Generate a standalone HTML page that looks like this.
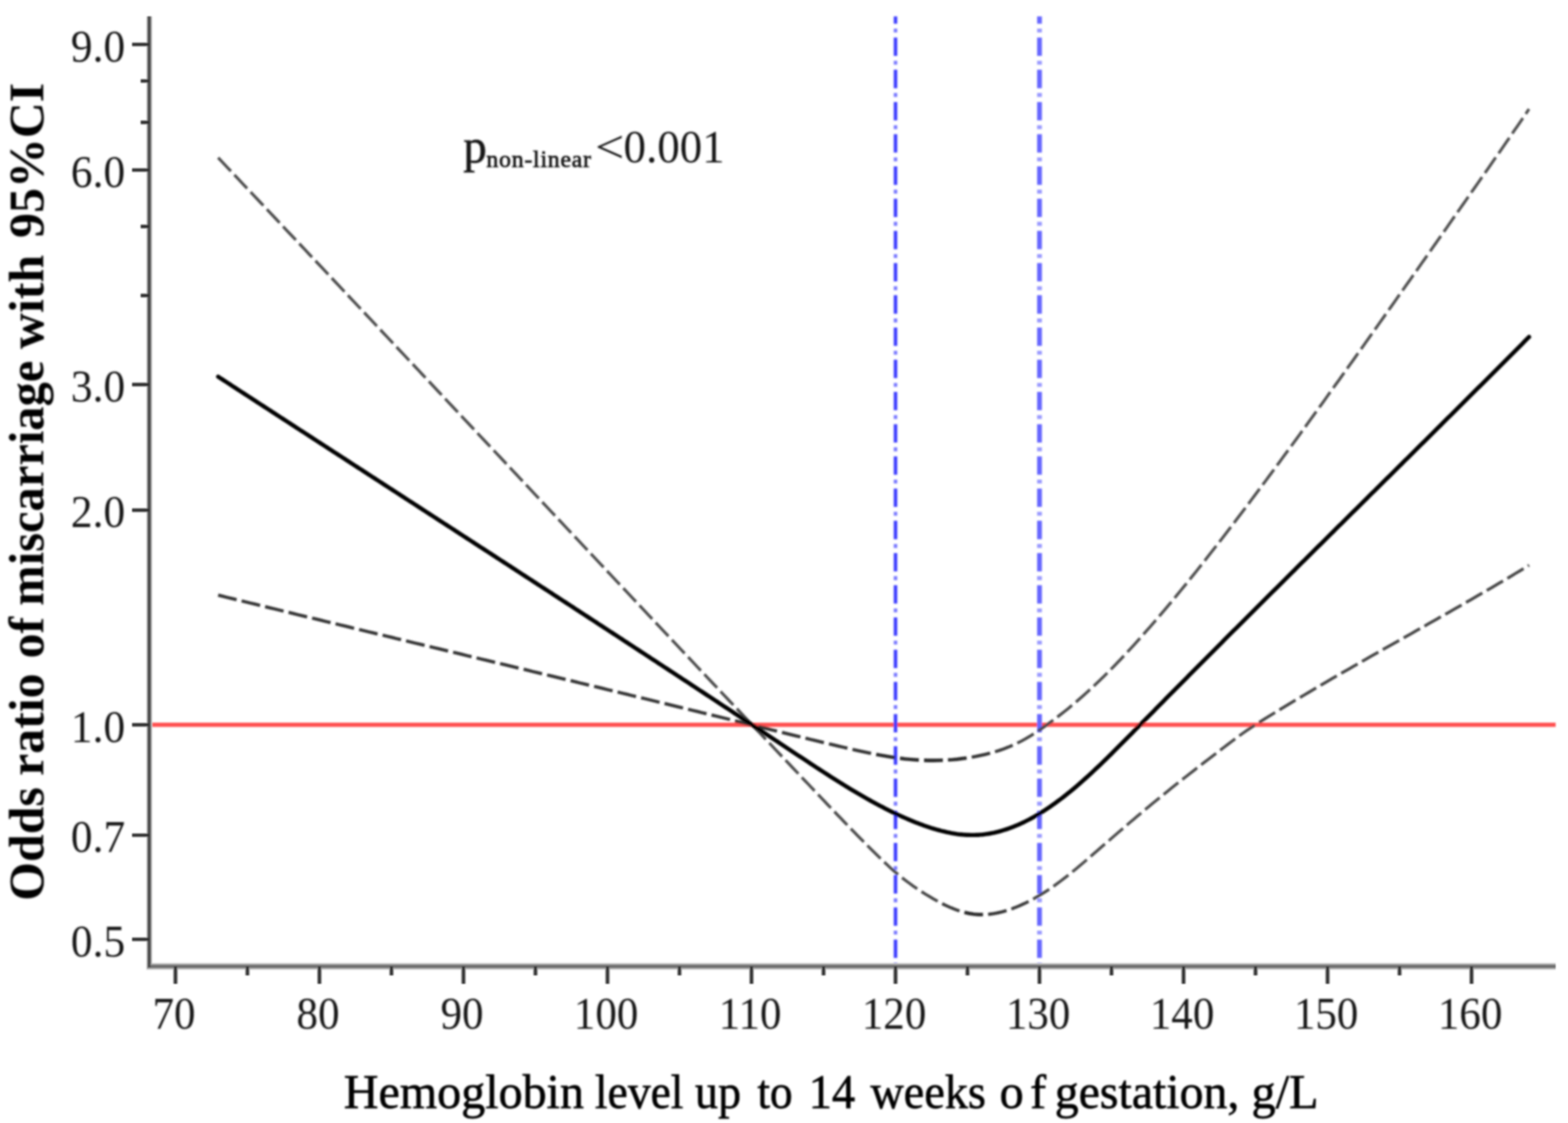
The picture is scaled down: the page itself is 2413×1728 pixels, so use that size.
<!DOCTYPE html>
<html lang="en">
<head>
<meta charset="utf-8">
<title>Odds ratio of miscarriage by hemoglobin level</title>
<style>
html,body{margin:0;padding:0;background:#fff;}
body{width:2413px;height:1728px;overflow:hidden;}
svg{display:block;}
text{font-family:"Liberation Serif", "Times New Roman", Times, serif;fill:#161616;}
.tick{font-size:70px;fill:#202020;}
</style>
</head>
<body>
<svg xmlns="http://www.w3.org/2000/svg" width="2413" height="1728" viewBox="0 0 2413 1728">
<defs>
<filter id="soft" x="-2%" y="-2%" width="104%" height="104%"><feGaussianBlur stdDeviation="1.5"/></filter>
<filter id="soft2" x="-2%" y="-2%" width="104%" height="104%"><feGaussianBlur stdDeviation="0.9"/></filter>
</defs>
<rect x="0" y="0" width="2413" height="1728" fill="#ffffff"/>
<g filter="url(#soft)">
<g fill="none">
<line x1="229.8" y1="1115.2" x2="2394.0" y2="1115.2" stroke="#ff5050" stroke-width="6.4"/>
<line x1="1378.1" y1="25.2" x2="1378.1" y2="1487.0" stroke="#3c3cff" stroke-width="5.4" stroke-dasharray="28.3 21.27" stroke-dashoffset="16.97"/>
<line x1="1378.1" y1="25.2" x2="1378.1" y2="1487.0" stroke="#7a7aff" stroke-width="5.4" stroke-dasharray="6.1 43.47" stroke-dashoffset="30.84"/>
<line x1="1599.7" y1="25.2" x2="1599.7" y2="1487.0" stroke="#6666ff" stroke-width="7.4" stroke-dasharray="28.3 21.27" stroke-dashoffset="16.97"/>
<line x1="1599.7" y1="25.2" x2="1599.7" y2="1487.0" stroke="#9a9aff" stroke-width="7.4" stroke-dasharray="6.1 43.47" stroke-dashoffset="30.84"/>
<g stroke="#2c2c2c">
<path d="M1597.3,1124.9L1603.3,1120.8L1609.2,1116.7L1615.0,1112.4L1620.9,1108.1M1627.1,1103.4L1632.9,1098.9L1638.5,1094.4L1644.2,1089.9L1649.7,1085.3" stroke="#494949" stroke-width="4.5"/>
<path d="M1655.8,1080.2L1661.2,1075.5L1666.7,1070.7L1672.1,1065.9L1677.4,1061.0" stroke="#4b4b4b" stroke-width="4.5"/>
<path d="M1683.2,1055.7L1688.5,1050.7L1693.7,1045.7L1698.9,1040.6L1704.0,1035.5M1709.5,1030.0L1714.6,1024.8L1719.6,1019.6L1724.7,1014.4L1729.6,1009.1" stroke="#4c4c4c" stroke-width="4.5"/>
<path d="M1735.0,1003.3L1739.9,998.0L1744.8,992.7L1749.7,987.3L1754.5,981.9M1759.7,976.1L1764.5,970.6L1769.3,965.2L1774.0,959.7L1778.8,954.3M1783.9,948.3L1788.6,942.8L1793.3,937.3L1797.9,931.7L1802.6,926.2" stroke="#4d4d4d" stroke-width="4.5"/>
<path d="M1807.6,920.1L1812.2,914.5L1816.8,908.9L1821.4,903.3L1826.0,897.7M1830.9,891.6L1835.4,886.0L1840.0,880.3L1844.5,874.7L1849.0,869.0M1853.9,862.8L1858.3,857.1L1862.8,851.4L1867.3,845.7L1871.7,840.0M1876.5,833.8L1881.0,828.1L1885.4,822.4L1889.8,816.6L1894.2,810.9M1899.0,804.6L1903.3,798.9L1907.7,793.1L1912.1,787.3L1916.5,781.5M1921.2,775.3L1925.5,769.5L1929.9,763.7L1934.2,757.9L1938.5,752.1M1943.2,745.8L1947.6,740.0L1951.9,734.2L1956.2,728.3L1960.5,722.5M1965.2,716.2L1969.5,710.4L1973.7,704.5L1978.0,698.7L1982.3,692.9M1987.0,686.5L1991.2,680.7L1995.5,674.8L1999.8,669.0L2004.0,663.1M2008.6,656.8L2012.9,650.9L2017.1,645.0L2021.4,639.2L2025.6,633.3M2030.2,626.9L2034.5,621.1L2038.7,615.2L2042.9,609.3L2047.1,603.4M2051.7,597.0L2055.9,591.1L2060.2,585.3L2064.4,579.4L2068.6,573.5M2073.1,567.1L2077.3,561.2L2081.6,555.3L2085.8,549.4L2089.9,543.5M2094.5,537.1L2098.7,531.2L2102.9,525.3L2107.1,519.4L2111.3,513.5M2115.8,507.1L2120.0,501.2L2124.2,495.3L2128.4,489.4L2132.6,483.4M2137.1,477.0L2141.3,471.1L2145.5,465.2L2149.6,459.3L2153.8,453.4M2158.3,447.0L2162.5,441.0L2166.7,435.1L2170.9,429.2L2175.0,423.3M2179.6,416.9L2183.7,410.9L2187.9,405.0L2192.1,399.1L2196.2,393.2M2200.8,386.7L2204.9,380.8L2209.1,374.9L2213.2,369.0L2217.4,363.1M2221.9,356.6L2226.1,350.7L2230.2,344.8L2234.4,338.8L2238.5,332.9M2243.0,326.5L2247.2,320.5L2251.3,314.6L2255.5,308.7L2259.6,302.7M2264.1,296.3L2268.3,290.4L2272.4,284.4L2276.6,278.5L2280.7,272.5M2285.2,266.1L2289.4,260.2L2293.5,254.2L2297.6,248.3L2301.8,242.3M2306.3,235.9L2310.4,229.9L2314.5,224.0L2318.6,218.0L2322.8,212.1M2327.2,205.6L2331.3,199.6L2335.4,193.7L2339.5,187.7L2343.6,181.7M2348.0,175.2L2353.0,167.7" stroke="#4e4e4e" stroke-width="4.5"/>
<path d="M1565.5,1143.5L1572.0,1140.2L1578.3,1136.8L1584.6,1133.1L1590.7,1129.3" stroke="#454545" stroke-width="4.6"/>
<path d="M1531.2,1156.7L1538.1,1154.6L1545.0,1152.2L1551.7,1149.6L1558.4,1146.8" stroke="#3b3b3b" stroke-width="4.8"/>
<path d="M335.7,915.8L342.8,917.5L349.9,919.3L357.0,921.0L364.1,922.7M371.8,924.6L378.9,926.4L386.0,928.1L393.2,929.8L400.3,931.6M408.0,933.5L415.1,935.2L422.2,936.9L429.3,938.7L436.4,940.4M444.1,942.3L451.2,944.0L458.3,945.8L465.4,947.5L472.6,949.2M480.3,951.1L487.4,952.8L494.5,954.5L501.6,956.3L508.7,958.0M516.4,959.9L523.5,961.6L530.7,963.3L537.8,965.0L544.9,966.8M552.6,968.6L559.7,970.4L566.8,972.1L573.9,973.8L581.0,975.5M588.8,977.4L595.9,979.1L603.0,980.8L610.1,982.6L617.2,984.3M624.9,986.1L632.0,987.9L639.1,989.6L646.3,991.3L653.4,993.0M661.1,994.9L668.2,996.6L675.3,998.3L682.4,1000.0L689.5,1001.7M697.3,1003.6L704.4,1005.3L711.5,1007.0L718.6,1008.8L725.7,1010.5M733.4,1012.3L740.5,1014.1L747.7,1015.8L754.8,1017.5L761.9,1019.2M769.6,1021.1L776.7,1022.8L783.8,1024.5L790.9,1026.2L798.0,1028.0M805.8,1029.8L812.9,1031.5L820.0,1033.3L827.1,1035.0L834.2,1036.7M841.9,1038.6L849.0,1040.3L856.2,1042.0L863.3,1043.7L870.4,1045.5M878.1,1047.3L885.2,1049.0L892.3,1050.8L899.4,1052.5L906.5,1054.2M914.3,1056.1L921.4,1057.8L928.5,1059.5L935.6,1061.3L942.7,1063.0M950.4,1064.9L957.5,1066.6L964.6,1068.3L971.7,1070.1L978.8,1071.8M986.6,1073.7L993.7,1075.4L1000.8,1077.1L1007.9,1078.9L1015.0,1080.6M1022.7,1082.5L1029.8,1084.2L1036.9,1086.0L1044.0,1087.7L1051.1,1089.4M1058.9,1091.3L1066.0,1093.1L1073.1,1094.8L1080.2,1096.6L1087.3,1098.3M1095.0,1100.2L1102.1,1101.9L1109.2,1103.7L1116.3,1105.4L1123.4,1107.2M1131.1,1109.1L1138.2,1110.8L1145.3,1112.6L1152.4,1114.4L1159.5,1116.1M1167.2,1118.0L1174.4,1119.8L1181.5,1121.5L1188.6,1123.3L1195.7,1125.0M1203.4,1127.0L1210.5,1128.7L1217.6,1130.5L1224.7,1132.2L1231.8,1133.9M1239.5,1135.8L1246.6,1137.6L1253.7,1139.3L1260.8,1141.0L1267.9,1142.7M1275.7,1144.6L1282.8,1146.3L1289.9,1148.0L1297.0,1149.6L1304.1,1151.3M1311.9,1153.1L1319.0,1154.7L1326.2,1156.3L1333.3,1157.8L1340.5,1159.3M1495.4,1165.1L1502.5,1163.8L1509.6,1162.3L1516.6,1160.7L1523.7,1158.9" stroke="#343434" stroke-width="5.0"/>
<path d="M1348.3,1160.8L1355.5,1162.2L1362.7,1163.4L1369.9,1164.6L1377.1,1165.7M1385.0,1166.8L1392.3,1167.7L1399.5,1168.4L1406.8,1169.0L1414.1,1169.5M1458.8,1169.4L1466.0,1168.9L1473.3,1168.2L1480.4,1167.3L1487.6,1166.3" stroke="#2c2c2c" stroke-width="5.4"/>
<path d="M1422.0,1169.9L1429.3,1170.1L1436.5,1170.1L1443.7,1170.0L1451.0,1169.8" stroke="#2a2a2a" stroke-width="5.6"/>
<path d="M1388.2,1350.6L1393.9,1355.0L1399.7,1359.3L1405.6,1363.6L1411.5,1367.7M1621.1,1363.9L1626.9,1359.6L1632.8,1355.3L1638.5,1350.9L1644.2,1346.5M1790.7,1222.4L1796.3,1217.9L1802.0,1213.3L1807.6,1208.8L1813.3,1204.3M1819.5,1199.4L1825.2,1195.0L1830.9,1190.5L1836.6,1186.1L1842.3,1181.6M1848.5,1176.8L1854.2,1172.4L1860.0,1168.0L1865.7,1163.6L1871.5,1159.2M1877.7,1154.4L1883.5,1150.0L1889.2,1145.6L1895.0,1141.3L1900.8,1136.9M1907.1,1132.3L1913.0,1128.0L1918.9,1123.9L1924.9,1119.8L1931.0,1115.8" stroke="#494949" stroke-width="4.5"/>
<path d="M1360.8,1326.5L1366.0,1331.4L1371.3,1336.3L1376.6,1341.0L1382.1,1345.6M1650.3,1341.5L1655.9,1336.9L1661.5,1332.3L1667.0,1327.6L1672.5,1322.9M1678.4,1317.8L1683.9,1313.0L1689.4,1308.3L1694.8,1303.5L1700.3,1298.8M1706.3,1293.6L1711.7,1288.9L1717.2,1284.1L1722.7,1279.4L1728.2,1274.7M1734.1,1269.6L1739.6,1264.9L1745.2,1260.2L1750.7,1255.5L1756.2,1250.9M1762.3,1245.8L1767.8,1241.2L1773.4,1236.6L1779.0,1232.0L1784.6,1227.4" stroke="#4b4b4b" stroke-width="4.5"/>
<path d="M335.7,242.6L340.6,247.8L345.5,253.0L350.4,258.2L355.4,263.4M360.7,269.1L365.6,274.3L370.5,279.5L375.4,284.7L380.3,289.9M385.7,295.5L390.6,300.7L395.5,305.9L400.4,311.1L405.3,316.3M410.7,322.0L415.6,327.2L420.5,332.4L425.4,337.6L430.3,342.8M435.6,348.5L440.5,353.7L445.4,358.9L450.4,364.1L455.3,369.3M460.6,374.9L465.5,380.1L470.4,385.3L475.3,390.6L480.2,395.8M485.5,401.4L490.5,406.6L495.4,411.8L500.3,417.0L505.2,422.2M510.5,427.9L515.4,433.1L520.3,438.3L525.2,443.5L530.1,448.7M959.2,905.1L964.1,910.3L969.0,915.5L973.9,920.7L978.8,925.9M984.1,931.6L989.0,936.8L993.9,942.0L998.8,947.2L1003.7,952.4M1009.0,958.1L1013.9,963.3L1018.8,968.5L1023.8,973.7L1028.7,978.9M1034.0,984.6L1038.9,989.8L1043.8,995.0L1048.7,1000.2L1053.6,1005.4M1059.0,1011.0L1063.9,1016.3L1068.8,1021.5L1073.7,1026.7L1078.6,1031.9M1083.9,1037.5L1088.8,1042.7L1093.7,1047.9L1098.6,1053.1L1103.6,1058.3M1108.9,1064.0L1113.8,1069.2L1118.7,1074.4L1123.6,1079.6L1128.5,1084.8M1133.9,1090.4L1138.8,1095.6L1143.7,1100.8L1148.6,1106.0L1153.5,1111.2M1158.9,1116.9L1163.8,1122.1L1168.7,1127.3L1173.6,1132.5L1178.5,1137.7M1183.9,1143.3L1188.8,1148.5L1193.7,1153.7L1198.6,1158.9L1203.5,1164.1M1208.9,1169.7L1213.8,1174.9L1218.7,1180.1L1223.6,1185.3L1228.6,1190.5M1233.9,1196.2L1238.8,1201.4L1243.8,1206.5L1248.7,1211.7L1253.6,1216.9M1259.0,1222.6L1263.9,1227.7L1268.8,1232.9L1273.7,1238.1L1278.7,1243.3M1284.1,1248.9L1289.0,1254.1L1294.0,1259.2L1298.9,1264.4L1303.9,1269.5M1309.3,1275.1L1314.3,1280.2L1319.3,1285.3L1324.3,1290.4L1329.4,1295.5M1334.8,1301.0L1339.9,1306.1L1345.0,1311.1L1350.1,1316.2L1355.2,1321.2" stroke="#4c4c4c" stroke-width="4.5"/>
<path d="M535.4,454.4L540.3,459.6L545.2,464.8L550.1,470.0L555.1,475.2M560.4,480.9L565.3,486.1L570.2,491.3L575.1,496.5L580.0,501.7M585.3,507.4L590.2,512.6L595.1,517.8L600.0,523.0L604.9,528.2M610.2,533.9L615.1,539.1L620.0,544.3L624.9,549.5L629.8,554.8M635.2,560.4L640.1,565.6L645.0,570.8L649.9,576.1L654.8,581.3M660.1,586.9L665.0,592.1L669.9,597.4L674.8,602.6L679.7,607.8M685.0,613.5L689.9,618.7L694.8,623.9L699.7,629.1L704.6,634.3M709.9,640.0L714.8,645.2L719.7,650.4L724.6,655.6L729.5,660.8M734.8,666.5L739.7,671.7L744.6,676.9L749.5,682.1L754.4,687.3M759.8,693.0L764.7,698.2L769.6,703.4L774.5,708.6L779.4,713.9M784.7,719.5L789.6,724.7L794.5,729.9L799.4,735.2L804.3,740.4M809.6,746.0L814.5,751.3L819.4,756.5L824.3,761.7L829.2,766.9M834.5,772.6L839.4,777.8L844.3,783.0L849.2,788.2L854.1,793.4M859.4,799.1L864.3,804.3L869.2,809.5L874.1,814.7L879.0,819.9M884.4,825.6L889.3,830.8L894.2,836.0L899.1,841.2L904.0,846.4M909.3,852.1L914.2,857.3L919.1,862.5L924.0,867.7L928.9,872.9M934.2,878.6L939.1,883.8L944.0,889.0L948.9,894.2L953.8,899.4" stroke="#4d4d4d" stroke-width="4.5"/>
<path d="M1418.1,1372.0L1424.2,1375.9L1430.4,1379.6L1436.6,1383.3L1443.0,1386.8M1589.9,1383.4L1596.2,1379.8L1602.4,1376.1L1608.5,1372.3L1614.6,1368.3M1937.6,1111.6L1943.7,1107.8L1949.9,1103.9L1956.1,1100.1L1962.2,1096.4M1968.9,1092.3L1975.1,1088.5L1981.3,1084.7L1987.5,1081.0L1993.7,1077.3M2000.5,1073.3L2006.7,1069.6L2012.9,1065.9L2019.2,1062.2L2025.4,1058.5M2032.2,1054.5L2038.4,1050.9L2044.7,1047.2L2051.0,1043.6L2057.2,1040.0M2064.0,1036.1L2070.3,1032.5L2076.6,1028.9L2082.9,1025.3L2089.2,1021.7M2096.0,1017.8L2102.3,1014.2L2108.6,1010.6L2114.9,1007.0L2121.2,1003.5M2128.0,999.6L2134.3,996.0L2140.6,992.5L2146.9,988.9L2153.2,985.4M2160.1,981.5L2166.4,977.9L2172.7,974.4L2179.0,970.8L2185.3,967.3M2192.1,963.4L2198.4,959.8L2204.7,956.3L2211.0,952.7L2217.3,949.1M2224.2,945.3L2230.5,941.7L2236.8,938.1L2243.0,934.5L2249.3,930.9M2256.1,927.0L2262.4,923.4L2268.7,919.8L2275.0,916.1L2281.2,912.5M2288.0,908.5L2294.3,904.9L2300.5,901.2L2306.7,897.6L2313.0,893.9M2319.7,889.9L2326.0,886.2L2332.2,882.4L2338.4,878.7L2344.6,875.0M2351.3,870.9L2353.1,869.8" stroke="#454545" stroke-width="4.6"/>
<path d="M1449.9,1390.5L1456.4,1393.6L1463.0,1396.6L1469.7,1399.3L1476.6,1401.7M1556.4,1398.7L1563.2,1396.1L1569.9,1393.3L1576.4,1390.3L1582.9,1387.1" stroke="#3b3b3b" stroke-width="4.8"/>
<path d="M1520.6,1406.9L1527.8,1406.1L1534.9,1404.8L1542.0,1403.2L1549.0,1401.2" stroke="#343434" stroke-width="5.0"/>
<path d="M1484.1,1403.9L1491.2,1405.5L1498.3,1406.6L1505.5,1407.2L1512.8,1407.3" stroke="#2c2c2c" stroke-width="5.4"/>
</g>
<path d="M335.7,579.6 L338.7,581.6 L341.7,583.5 L344.7,585.5 L347.7,587.4 L350.7,589.4 L353.7,591.3 L356.7,593.3 L359.7,595.3 L362.7,597.2 L365.7,599.2 L368.7,601.1 L371.7,603.1 L374.7,605.0 L377.7,607.0 L380.7,608.9 L383.7,610.9 L386.7,612.8 L389.7,614.8 L392.7,616.7 L395.7,618.7 L398.7,620.6 L401.7,622.6 L404.7,624.5 L407.7,626.5 L410.7,628.4 L413.7,630.4 L416.7,632.3 L419.7,634.3 L422.7,636.2 L425.7,638.2 L428.7,640.1 L431.7,642.1 L434.7,644.0 L437.7,646.0 L440.7,647.9 L443.7,649.9 L446.7,651.8 L449.7,653.8 L452.7,655.7 L455.7,657.7 L458.7,659.6 L461.7,661.6 L464.7,663.5 L467.7,665.4 L470.7,667.4 L473.7,669.3 L476.7,671.3 L479.7,673.2 L482.7,675.2 L485.7,677.1 L488.7,679.1 L491.7,681.0 L494.7,683.0 L497.7,684.9 L500.7,686.9 L503.7,688.8 L506.7,690.8 L509.7,692.7 L512.7,694.7 L515.7,696.6 L518.7,698.5 L521.7,700.5 L524.7,702.4 L527.7,704.4 L530.7,706.3 L533.7,708.3 L536.7,710.2 L539.7,712.2 L542.7,714.1 L545.7,716.1 L548.7,718.0 L551.7,720.0 L554.7,721.9 L557.7,723.8 L560.7,725.8 L563.7,727.7 L566.7,729.7 L569.7,731.6 L572.7,733.6 L575.7,735.5 L578.7,737.5 L581.7,739.4 L584.7,741.4 L587.7,743.3 L590.7,745.3 L593.7,747.2 L596.7,749.1 L599.7,751.1 L602.7,753.0 L605.7,755.0 L608.7,756.9 L611.7,758.9 L614.7,760.8 L617.7,762.8 L620.7,764.7 L623.7,766.7 L626.7,768.6 L629.7,770.6 L632.7,772.5 L635.7,774.4 L638.7,776.4 L641.7,778.3 L644.7,780.3 L647.7,782.2 L650.7,784.2 L653.7,786.1 L656.7,788.1 L659.7,790.0 L662.7,792.0 L665.7,793.9 L668.7,795.9 L671.7,797.8 L674.7,799.8 L677.7,801.7 L680.7,803.6 L683.7,805.6 L686.7,807.5 L689.7,809.5 L692.7,811.4 L695.7,813.4 L698.7,815.3 L701.7,817.3 L704.7,819.2 L707.7,821.2 L710.7,823.1 L713.7,825.1 L716.7,827.0 L719.7,829.0 L722.7,830.9 L725.7,832.9 L728.7,834.8 L731.7,836.8 L734.7,838.7 L737.7,840.7 L740.7,842.6 L743.7,844.5 L746.7,846.5 L749.7,848.4 L752.7,850.4 L755.7,852.3 L758.7,854.3 L761.7,856.2 L764.7,858.2 L767.7,860.1 L770.7,862.1 L773.7,864.0 L776.7,866.0 L779.7,867.9 L782.7,869.9 L785.7,871.8 L788.7,873.8 L791.7,875.7 L794.7,877.7 L797.7,879.6 L800.7,881.6 L803.7,883.6 L806.7,885.5 L809.7,887.5 L812.7,889.4 L815.7,891.4 L818.7,893.3 L821.7,895.3 L824.7,897.2 L827.7,899.2 L830.7,901.1 L833.7,903.1 L836.7,905.0 L839.7,907.0 L842.7,908.9 L845.7,910.9 L848.7,912.8 L851.7,914.8 L854.7,916.8 L857.7,918.7 L860.7,920.7 L863.7,922.6 L866.7,924.6 L869.7,926.5 L872.7,928.5 L875.7,930.4 L878.7,932.4 L881.7,934.3 L884.7,936.3 L887.7,938.3 L890.7,940.2 L893.7,942.2 L896.7,944.1 L899.7,946.1 L902.7,948.0 L905.7,950.0 L908.7,952.0 L911.7,953.9 L914.7,955.9 L917.7,957.8 L920.7,959.8 L923.7,961.8 L926.7,963.7 L929.7,965.7 L932.7,967.6 L935.7,969.6 L938.7,971.6 L941.7,973.5 L944.7,975.5 L947.7,977.4 L950.7,979.4 L953.7,981.4 L956.7,983.3 L959.7,985.3 L962.7,987.3 L965.7,989.2 L968.7,991.2 L971.7,993.1 L974.7,995.1 L977.7,997.1 L980.7,999.0 L983.7,1001.0 L986.7,1003.0 L989.7,1004.9 L992.7,1006.9 L995.7,1008.9 L998.7,1010.8 L1001.7,1012.8 L1004.7,1014.8 L1007.7,1016.7 L1010.7,1018.7 L1013.7,1020.7 L1016.7,1022.6 L1019.7,1024.6 L1022.7,1026.6 L1025.7,1028.5 L1028.7,1030.5 L1031.7,1032.5 L1034.7,1034.4 L1037.7,1036.4 L1040.7,1038.4 L1043.7,1040.4 L1046.7,1042.3 L1049.7,1044.3 L1052.7,1046.3 L1055.7,1048.2 L1058.7,1050.2 L1061.7,1052.2 L1064.7,1054.2 L1067.7,1056.1 L1070.7,1058.1 L1073.7,1060.1 L1076.7,1062.1 L1079.7,1064.0 L1082.7,1066.0 L1085.7,1068.0 L1088.7,1070.0 L1091.7,1071.9 L1094.7,1073.9 L1097.7,1075.9 L1100.7,1077.9 L1103.7,1079.8 L1106.7,1081.8 L1109.7,1083.8 L1112.7,1085.8 L1115.7,1087.8 L1118.7,1089.7 L1121.7,1091.7 L1124.7,1093.7 L1127.7,1095.7 L1130.7,1097.7 L1133.7,1099.6 L1136.7,1101.6 L1139.7,1103.6 L1142.7,1105.6 L1145.7,1107.6 L1148.7,1109.5 L1151.7,1111.5 L1154.7,1113.5 L1157.7,1115.5 L1160.7,1117.5 L1163.7,1119.5 L1166.7,1121.5 L1169.7,1123.4 L1172.7,1125.4 L1175.7,1127.4 L1178.7,1129.4 L1181.7,1131.4 L1184.7,1133.4 L1187.7,1135.4 L1190.7,1137.4 L1193.7,1139.4 L1196.7,1141.3 L1199.7,1143.3 L1202.7,1145.3 L1205.7,1147.3 L1208.7,1149.3 L1211.7,1151.3 L1214.7,1153.3 L1217.7,1155.3 L1220.7,1157.3 L1223.7,1159.3 L1226.7,1161.3 L1229.7,1163.3 L1232.7,1165.2 L1235.7,1167.2 L1238.7,1169.2 L1241.7,1171.2 L1244.7,1173.2 L1247.7,1175.2 L1250.7,1177.1 L1253.7,1179.1 L1256.7,1181.1 L1259.7,1183.0 L1262.7,1185.0 L1265.7,1186.9 L1268.7,1188.9 L1271.7,1190.8 L1274.7,1192.7 L1277.7,1194.7 L1280.7,1196.6 L1283.7,1198.5 L1286.7,1200.4 L1289.7,1202.3 L1292.7,1204.1 L1295.7,1206.0 L1298.7,1207.9 L1301.7,1209.7 L1304.7,1211.6 L1307.7,1213.4 L1310.7,1215.2 L1313.7,1217.0 L1316.7,1218.8 L1319.7,1220.6 L1322.7,1222.3 L1325.7,1224.1 L1328.7,1225.8 L1331.7,1227.5 L1334.7,1229.2 L1337.7,1230.9 L1340.7,1232.6 L1343.7,1234.2 L1346.7,1235.9 L1349.7,1237.5 L1352.7,1239.1 L1355.7,1240.7 L1358.7,1242.2 L1361.7,1243.8 L1364.7,1245.3 L1367.7,1246.8 L1370.7,1248.3 L1373.7,1249.8 L1376.7,1251.2 L1379.7,1252.7 L1382.7,1254.1 L1385.7,1255.4 L1388.7,1256.8 L1391.7,1258.1 L1394.7,1259.4 L1397.7,1260.7 L1400.7,1262.0 L1403.7,1263.2 L1406.7,1264.5 L1409.7,1265.7 L1412.7,1266.8 L1415.7,1268.0 L1418.7,1269.1 L1421.7,1270.2 L1424.7,1271.2 L1427.7,1272.2 L1430.7,1273.2 L1433.7,1274.2 L1436.7,1275.1 L1439.7,1276.0 L1442.7,1276.9 L1445.7,1277.7 L1448.7,1278.5 L1451.7,1279.2 L1454.7,1279.9 L1457.7,1280.6 L1460.7,1281.2 L1463.7,1281.8 L1466.7,1282.3 L1469.7,1282.8 L1472.7,1283.3 L1475.7,1283.7 L1478.7,1284.0 L1481.7,1284.3 L1484.7,1284.5 L1487.7,1284.7 L1490.7,1284.8 L1493.7,1284.9 L1496.7,1284.9 L1499.7,1284.9 L1502.7,1284.8 L1505.7,1284.7 L1508.7,1284.4 L1511.7,1284.2 L1514.7,1283.8 L1517.7,1283.4 L1520.7,1283.0 L1523.7,1282.5 L1526.7,1281.9 L1529.7,1281.3 L1532.7,1280.6 L1535.7,1279.9 L1538.7,1279.1 L1541.7,1278.2 L1544.7,1277.3 L1547.7,1276.4 L1550.7,1275.4 L1553.7,1274.3 L1556.7,1273.2 L1559.7,1272.1 L1562.7,1270.8 L1565.7,1269.6 L1568.7,1268.3 L1571.7,1266.9 L1574.7,1265.5 L1577.7,1264.0 L1580.7,1262.5 L1583.7,1261.0 L1586.7,1259.4 L1589.7,1257.7 L1592.7,1256.0 L1595.7,1254.3 L1598.7,1252.5 L1601.7,1250.6 L1604.7,1248.8 L1607.7,1246.9 L1610.7,1244.9 L1613.7,1242.9 L1616.7,1240.8 L1619.7,1238.7 L1622.7,1236.6 L1625.7,1234.4 L1628.7,1232.2 L1631.7,1230.0 L1634.7,1227.7 L1637.7,1225.4 L1640.7,1223.0 L1643.7,1220.6 L1646.7,1218.2 L1649.7,1215.7 L1652.7,1213.2 L1655.7,1210.7 L1658.7,1208.1 L1661.7,1205.5 L1664.7,1202.9 L1667.7,1200.2 L1670.7,1197.5 L1673.7,1194.8 L1676.7,1192.1 L1679.7,1189.3 L1682.7,1186.5 L1685.7,1183.7 L1688.7,1180.9 L1691.7,1178.1 L1694.7,1175.2 L1697.7,1172.3 L1700.7,1169.4 L1703.7,1166.5 L1706.7,1163.5 L1709.7,1160.6 L1712.7,1157.6 L1715.7,1154.6 L1718.7,1151.6 L1721.7,1148.6 L1724.7,1145.6 L1727.7,1142.6 L1730.7,1139.6 L1733.7,1136.5 L1736.7,1133.5 L1739.7,1130.4 L1742.7,1127.4 L1745.7,1124.3 L1748.7,1121.3 L1751.7,1118.2 L1754.7,1115.2 L1757.7,1112.1 L1760.7,1109.1 L1763.7,1106.0 L1766.7,1103.0 L1769.7,1100.0 L1772.7,1096.9 L1775.7,1093.9 L1778.7,1090.8 L1781.7,1087.8 L1784.7,1084.8 L1787.7,1081.7 L1790.7,1078.7 L1793.7,1075.6 L1796.7,1072.6 L1799.7,1069.6 L1802.7,1066.6 L1805.7,1063.5 L1808.7,1060.5 L1811.7,1057.5 L1814.7,1054.4 L1817.7,1051.4 L1820.7,1048.4 L1823.7,1045.4 L1826.7,1042.4 L1829.7,1039.3 L1832.7,1036.3 L1835.7,1033.3 L1838.7,1030.3 L1841.7,1027.3 L1844.7,1024.2 L1847.7,1021.2 L1850.7,1018.2 L1853.7,1015.2 L1856.7,1012.2 L1859.7,1009.2 L1862.7,1006.2 L1865.7,1003.2 L1868.7,1000.2 L1871.7,997.2 L1874.7,994.2 L1877.7,991.2 L1880.7,988.2 L1883.7,985.1 L1886.7,982.1 L1889.7,979.1 L1892.7,976.1 L1895.7,973.1 L1898.7,970.1 L1901.7,967.2 L1904.7,964.2 L1907.7,961.2 L1910.7,958.2 L1913.7,955.2 L1916.7,952.2 L1919.7,949.2 L1922.7,946.2 L1925.7,943.2 L1928.7,940.2 L1931.7,937.2 L1934.7,934.2 L1937.7,931.2 L1940.7,928.3 L1943.7,925.3 L1946.7,922.3 L1949.7,919.3 L1952.7,916.3 L1955.7,913.3 L1958.7,910.3 L1961.7,907.4 L1964.7,904.4 L1967.7,901.4 L1970.7,898.4 L1973.7,895.4 L1976.7,892.5 L1979.7,889.5 L1982.7,886.5 L1985.7,883.5 L1988.7,880.5 L1991.7,877.6 L1994.7,874.6 L1997.7,871.6 L2000.7,868.6 L2003.7,865.6 L2006.7,862.7 L2009.7,859.7 L2012.7,856.7 L2015.7,853.7 L2018.7,850.8 L2021.7,847.8 L2024.7,844.8 L2027.7,841.8 L2030.7,838.9 L2033.7,835.9 L2036.7,832.9 L2039.7,829.9 L2042.7,827.0 L2045.7,824.0 L2048.7,821.0 L2051.7,818.1 L2054.7,815.1 L2057.7,812.1 L2060.7,809.1 L2063.7,806.2 L2066.7,803.2 L2069.7,800.2 L2072.7,797.3 L2075.7,794.3 L2078.7,791.3 L2081.7,788.3 L2084.7,785.4 L2087.7,782.4 L2090.7,779.4 L2093.7,776.5 L2096.7,773.5 L2099.7,770.5 L2102.7,767.6 L2105.7,764.6 L2108.7,761.6 L2111.7,758.6 L2114.7,755.7 L2117.7,752.7 L2120.7,749.7 L2123.7,746.8 L2126.7,743.8 L2129.7,740.8 L2132.7,737.8 L2135.7,734.9 L2138.7,731.9 L2141.7,728.9 L2144.7,726.0 L2147.7,723.0 L2150.7,720.0 L2153.7,717.0 L2156.7,714.1 L2159.7,711.1 L2162.7,708.1 L2165.7,705.2 L2168.7,702.2 L2171.7,699.2 L2174.7,696.2 L2177.7,693.3 L2180.7,690.3 L2183.7,687.3 L2186.7,684.3 L2189.7,681.4 L2192.7,678.4 L2195.7,675.4 L2198.7,672.4 L2201.7,669.4 L2204.7,666.5 L2207.7,663.5 L2210.7,660.5 L2213.7,657.5 L2216.7,654.6 L2219.7,651.6 L2222.7,648.6 L2225.7,645.6 L2228.7,642.6 L2231.7,639.7 L2234.7,636.7 L2237.7,633.7 L2240.7,630.7 L2243.7,627.7 L2246.7,624.7 L2249.7,621.8 L2252.7,618.8 L2255.7,615.8 L2258.7,612.8 L2261.7,609.8 L2264.7,606.8 L2267.7,603.8 L2270.7,600.8 L2273.7,597.8 L2276.7,594.9 L2279.7,591.9 L2282.7,588.9 L2285.7,585.9 L2288.7,582.9 L2291.7,579.9 L2294.7,576.9 L2297.7,573.9 L2300.7,570.9 L2303.7,567.9 L2306.7,564.9 L2309.7,561.9 L2312.7,558.9 L2315.7,555.9 L2318.7,552.9 L2321.7,549.9 L2324.7,546.9 L2327.7,543.9 L2330.7,540.9 L2333.7,537.9 L2336.7,534.9 L2339.7,531.9 L2342.7,528.9 L2345.7,525.8 L2348.7,522.8 L2351.7,519.8 L2353.1,518.4" stroke="#000" stroke-width="6.4" stroke-linecap="round"/>
</g>
<g class="tick" text-anchor="end">
<text transform="translate(192.6 94.7) scale(0.955 1)">9.0</text>
<text transform="translate(192.6 287.9) scale(0.955 1)">6.0</text>
<text transform="translate(192.6 618.1) scale(0.955 1)">3.0</text>
<text transform="translate(192.6 811.3) scale(0.955 1)">2.0</text>
<text transform="translate(192.6 1141.5) scale(0.955 1)">1.0</text>
<text transform="translate(192.6 1311.4) scale(0.955 1)">0.7</text>
<text transform="translate(192.6 1471.7) scale(0.955 1)">0.5</text>
</g>
<g class="tick" text-anchor="middle">
<text transform="translate(267.8 1582.6) scale(0.945 1)">70</text>
<text transform="translate(489.4 1582.6) scale(0.945 1)">80</text>
<text transform="translate(711.0 1582.6) scale(0.945 1)">90</text>
<text transform="translate(932.7 1582.6) scale(0.945 1)">100</text>
<text transform="translate(1154.3 1582.6) scale(0.945 1)">110</text>
<text transform="translate(1375.9 1582.6) scale(0.945 1)">120</text>
<text transform="translate(1597.5 1582.6) scale(0.945 1)">130</text>
<text transform="translate(1819.1 1582.6) scale(0.945 1)">140</text>
<text transform="translate(2040.8 1582.6) scale(0.945 1)">150</text>
<text transform="translate(2262.4 1582.6) scale(0.945 1)">160</text>
</g>
<text y="1704.5" font-size="74.1" style="fill:#000;stroke:#000;stroke-width:0.9px"><tspan x="529.0" textLength="369.6" lengthAdjust="spacingAndGlyphs">Hemoglobin</tspan> <tspan x="915.6" textLength="136.1" lengthAdjust="spacingAndGlyphs">level</tspan> <tspan x="1069.5" textLength="70.9" lengthAdjust="spacingAndGlyphs">up</tspan> <tspan x="1165.4" textLength="54.5" lengthAdjust="spacingAndGlyphs">to</tspan> <tspan x="1244.4" textLength="71.6" lengthAdjust="spacingAndGlyphs">14</tspan> <tspan x="1339.5" textLength="177.7" lengthAdjust="spacingAndGlyphs">weeks</tspan> <tspan x="1538.2" textLength="71.7" lengthAdjust="spacing">of</tspan> <tspan x="1623.2" textLength="283.9" lengthAdjust="spacingAndGlyphs">gestation,</tspan> <tspan x="1926.1" textLength="102.9" lengthAdjust="spacingAndGlyphs">g/L</tspan></text>
<text transform="translate(66.5 1382.6) rotate(-90)" font-size="76.7" font-weight="bold" style="fill:#000"><tspan x="-3.4">Odds</tspan> <tspan x="188.8">ratio</tspan> <tspan x="369.5">of</tspan> <tspan x="450.6" textLength="377.0" lengthAdjust="spacingAndGlyphs">miscarriage</tspan> <tspan x="845.6">with</tspan> <tspan x="1016.6">95%CI</tspan></text>
<text y="250" font-size="72" style="fill:#141414"><tspan x="713" style="stroke:#141414;stroke-width:0.9px">p</tspan><tspan x="748.6" y="257.3" font-size="36.5" letter-spacing="1.2" style="stroke:#141414;stroke-width:1px">non-linear</tspan><tspan x="915.8" y="250" font-size="71.4" textLength="45" lengthAdjust="spacingAndGlyphs">&lt;</tspan><tspan x="959.6" y="250" font-size="71.4" textLength="155.6" lengthAdjust="spacingAndGlyphs">0.001</tspan></text>
</g>
<g fill="none" filter="url(#soft2)">
<path d="M229.8,25.2V1492.2" stroke="#dedede" stroke-width="9.5"/>
<path d="M225.10000000000002,1487.0H2394.0" stroke="#dadada" stroke-width="11.2"/>
<path d="M203.4,68.4H229.8M203.4,261.6H229.8M203.4,591.8H229.8M203.4,785.0H229.8M203.4,1115.2H229.8M203.4,1285.1H229.8M203.4,1445.4H229.8M216.6,124.6H229.8M216.6,188.2H229.8M216.6,348.5H229.8M216.6,454.8H229.8" stroke="#8a8a8a" stroke-width="6.4"/>
<path d="M270.0,1487.0V1513.8M491.6,1487.0V1513.8M713.2,1487.0V1513.8M934.9,1487.0V1513.8M1156.5,1487.0V1513.8M1378.1,1487.0V1513.8M1599.7,1487.0V1513.8M1821.3,1487.0V1513.8M2043.0,1487.0V1513.8M2264.6,1487.0V1513.8M380.8,1487.0V1500.8M602.4,1487.0V1500.8M824.0,1487.0V1500.8M1045.7,1487.0V1500.8M1267.3,1487.0V1500.8M1488.9,1487.0V1500.8M1710.5,1487.0V1500.8M1932.1,1487.0V1500.8M2153.8,1487.0V1500.8" stroke="#9a9a9a" stroke-width="7.2"/>
<path d="M229.8,25.2V1490.6" stroke="#888888" stroke-width="6.9"/>
<path d="M226.8,1487.0H2394.0" stroke="#9c9c9c" stroke-width="7.8"/>
<path d="M228.20000000000002,1487.0H2394.0" stroke="#6e6e6e" stroke-width="4.0"/>
<path d="M229.5,25.2V1488.8" stroke="#4c4c4c" stroke-width="4.4"/>
<path d="M203.4,68.4H229.8M203.4,261.6H229.8M203.4,591.8H229.8M203.4,785.0H229.8M203.4,1115.2H229.8M203.4,1285.1H229.8M203.4,1445.4H229.8M216.6,124.6H229.8M216.6,188.2H229.8M216.6,348.5H229.8M216.6,454.8H229.8" stroke="#2e2e2e" stroke-width="4.4"/>
<path d="M270.0,1487.0V1513.8M491.6,1487.0V1513.8M713.2,1487.0V1513.8M934.9,1487.0V1513.8M1156.5,1487.0V1513.8M1378.1,1487.0V1513.8M1599.7,1487.0V1513.8M1821.3,1487.0V1513.8M2043.0,1487.0V1513.8M2264.6,1487.0V1513.8M380.8,1487.0V1500.8M602.4,1487.0V1500.8M824.0,1487.0V1500.8M1045.7,1487.0V1500.8M1267.3,1487.0V1500.8M1488.9,1487.0V1500.8M1710.5,1487.0V1500.8M1932.1,1487.0V1500.8M2153.8,1487.0V1500.8" stroke="#303030" stroke-width="4.6"/>
</g>
</svg>
</body>
</html>
